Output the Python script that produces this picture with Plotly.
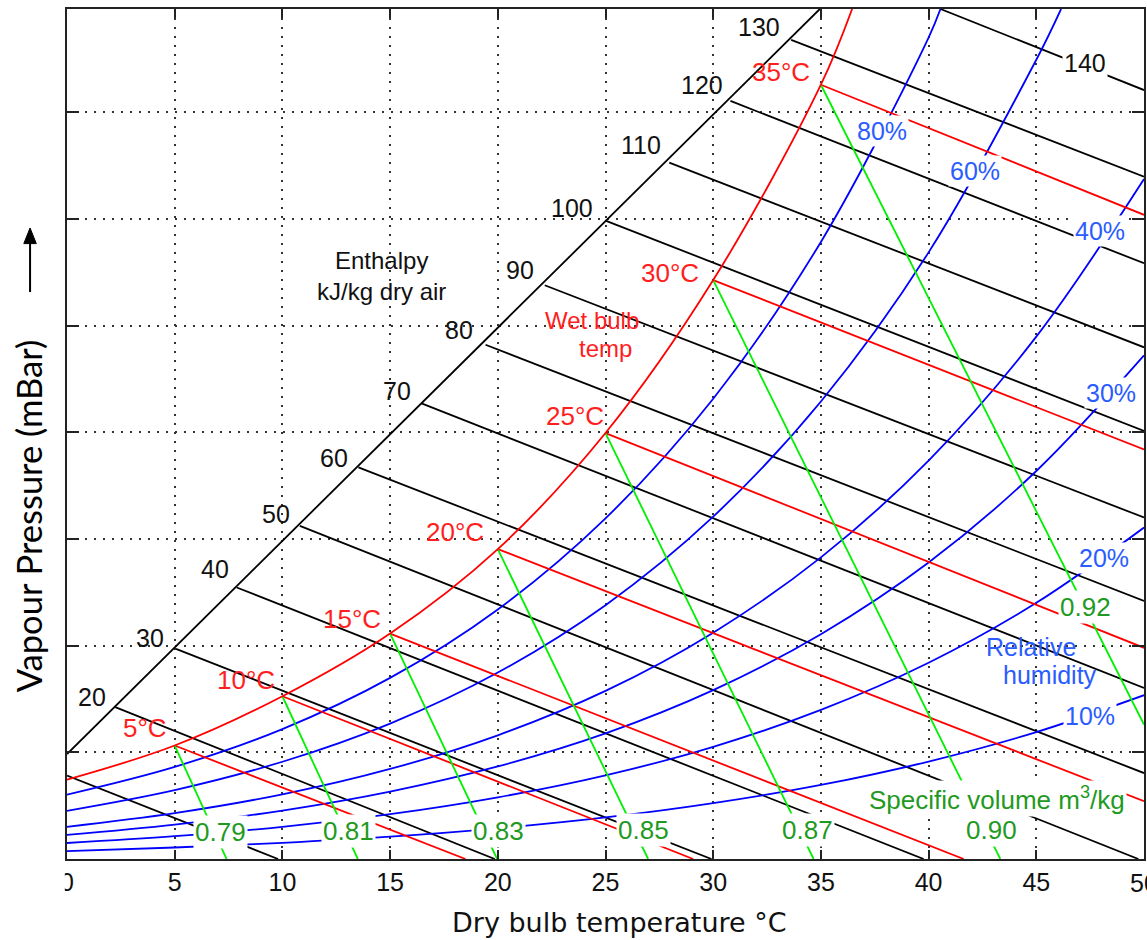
import plotly.graph_objects as go

# ---------------- values ----------------
x_ticks = [0, 5, 10, 15, 20, 25, 30, 35, 40, 45]
y_grid = [0, 5, 10, 15, 20, 25, 30, 35]
y_top = 39.85

# saturation curve (wet-bulb scale, red)
sat_T = [0, 5, 10, 15, 20, 25, 30, 35, 36.45]
sat_W = [3.72, 5.32, 7.63, 10.57, 14.53, 19.97, 27.14, 36.3, 39.85]

# relative humidity curves (blue)
rh_T = [0, 5, 10, 15, 20, 25, 30, 35, 40, 45, 50]
rh10_W = [0.37, 0.54, 0.76, 1.05, 1.44, 1.95, 2.62, 3.47, 4.57, 5.95, 7.68]
rh20_W = [0.75, 1.07, 1.51, 2.10, 2.89, 3.92, 5.26, 6.99, 9.20, 12.01, 15.54]
rh30_W = [1.13, 1.61, 2.27, 3.16, 4.34, 5.89, 7.92, 10.54, 13.90, 18.19, 23.61]
rh40_W = [1.51, 2.15, 3.03, 4.22, 5.80, 7.88, 10.61, 14.14, 18.68, 24.49, 31.88]
rh60_T = [0, 5, 10, 15, 20, 25, 30, 35, 40, 45, 46.15]
rh60_W = [2.26, 3.23, 4.56, 6.35, 8.74, 11.90, 16.05, 21.45, 28.44, 37.47, 39.85]
rh80_T = [0, 5, 10, 15, 20, 25, 30, 35, 40, 40.55]
rh80_W = [3.02, 4.32, 6.09, 8.49, 11.70, 15.97, 21.58, 28.93, 38.51, 39.85]

# wet-bulb lines (start on saturation curve at 5..35 °C)
wb_names = ["5°C", "10°C", "15°C", "20°C", "25°C", "30°C", "35°C"]
wb_end_T = [18.5, 29.07, 41.63, 50, 50, 50, 50]
wb_end_W = [0, 0, 0, 2.71, 9.9, 19.2, 30.2]

# specific volume lines (start on saturation curve at 5..35 °C)
sv_names = ["0.79", "0.81", "0.83", "0.85", "0.87", "0.90", "0.92"]
sv_end_T = [7.41, 13.5, 19.97, 26.98, 34.66, 43.33, 50]
sv_end_W = [0, 0, 0, 0, 0, 0, 6.3]

# enthalpy lines (kJ/kg dry air)
h_values = [10, 20, 30, 40, 50, 60, 70, 80, 90, 100, 110, 120, 130, 140]
h_start_T = [0, 2.24, 5.06, 7.88, 10.81, 13.53, 16.46, 19.43, 22.18, 25.0, 27.96, 30.8, 33.62, 40.55]
h_start_W = [3.91, 7.12, 9.85, 12.73, 15.62, 18.36, 21.36, 24.11, 26.9, 29.93, 32.65, 35.54, 38.4, 39.85]
h_end_T = [9.8, 19.86, 29.92, 39.77, 49.74, 50, 50, 50, 50, 50, 50, 50, 50, 50]
h_end_W = [0, 0, 0, 0, 0, 4.03, 8.02, 12.1, 16.01, 20.07, 23.99, 27.93, 31.99, 36.05]

# enthalpy scale baseline (diagonal)
diag_T = [0, 34.95]
diag_W = [4.92, 39.85]

# ---------------- label placement (chart coords) ----------------
h_lab_T = [None, 1.17, 3.86, 6.87, 9.70, 12.41, 15.31, 18.20, 21.05, 23.46, 26.64, 29.49, 32.13, 47.28]
h_lab_W = [None, 7.58, 10.38, 13.59, 16.17, 18.81, 21.94, 24.80, 27.61, 30.52, 33.48, 36.29, 39.01, 37.31]
wb_lab_T = [3.63, 8.3, 13.22, 17.99, 23.6, 28.0, 33.15]
wb_lab_W = [6.14, 8.41, 11.24, 15.31, 20.77, 27.46, 36.88]
sv_lab_T = [7.14, 13.08, 20.02, 26.75, 34.36, 42.94, 47.27]
sv_lab_W = [1.28, 1.30, 1.32, 1.35, 1.35, 1.35, 11.83]
rh_lab = {"10%": (47.5, 6.71), "20%": (48.15, 14.09), "30%": (48.48, 21.85),
          "40%": (47.94, 29.45), "60%": (42.17, 32.26), "80%": (37.83, 34.11)}

RED, BLUE, GREEN, BLACK = "#ff0000", "#0000ff", "#00f000", "#000000"
RED_T, BLUE_T, GREEN_T = "#ff1e1e", "#2a5cff", "#1f9a1f"
FONT = "Liberation Sans"
LW = 1.8

fig = go.Figure()

def line(xs, ys, color, shape="linear"):
    fig.add_trace(go.Scatter(x=xs, y=ys, mode="lines", hoverinfo="skip",
                             line=dict(color=color, width=LW, shape=shape),
                             showlegend=False))

# enthalpy lines + diagonal
line(diag_T, diag_W, BLACK)
for i in range(len(h_values)):
    line([h_start_T[i], h_end_T[i]], [h_start_W[i], h_end_W[i]], BLACK)

# relative humidity curves
for W in [rh10_W, rh20_W, rh30_W, rh40_W]:
    line(rh_T, W, BLUE, "spline")
line(rh60_T, rh60_W, BLUE, "spline")
line(rh80_T, rh80_W, BLUE, "spline")

# wet-bulb lines
for i in range(len(wb_names)):
    line([sat_T[i + 1], wb_end_T[i]], [sat_W[i + 1], wb_end_W[i]], RED)
# specific volume lines
for i in range(len(sv_names)):
    line([sat_T[i + 1], sv_end_T[i]], [sat_W[i + 1], sv_end_W[i]], GREEN)
# saturation curve
line(sat_T, sat_W, RED, "spline")

ann = []

def label(text, x, y, color, size=25, bg=None, xanchor="center"):
    d = dict(text=text, x=x, y=y, xref="x", yref="y", showarrow=False,
             font=dict(family=FONT, size=size, color=color),
             xanchor=xanchor, yanchor="middle", borderpad=1)
    if bg:
        d["bgcolor"] = bg
    ann.append(d)

for i, h in enumerate(h_values):
    if h_lab_T[i] is not None:
        label(str(h), h_lab_T[i], h_lab_W[i], "#111111", 25,
              bg="white" if h == 140 else None)
for i, n in enumerate(wb_names):
    label(n, wb_lab_T[i], wb_lab_W[i], RED_T, 26)
for i, n in enumerate(sv_names):
    label(n, sv_lab_T[i], sv_lab_W[i], GREEN_T, 26, bg="white")
for k, (tx, ty) in rh_lab.items():
    label(k, tx, ty, BLUE_T, 25, bg="white")

label("Enthalpy<br>kJ/kg dry air", 14.61, 27.32, "#111111", 24)
label("Wet bulb", 24.39, 25.26, RED_T, 24)
label("temp", 24.99, 23.95, RED_T, 24)
label("Relative", 44.76, 9.95, BLUE_T, 25)
label("humidity", 45.64, 8.61, BLUE_T, 25)
label("Specific volume m<sup>3</sup>/kg", 43.19, 2.85, GREEN_T, 26, bg="white")

# last x tick label (cut by the right edge, as in the chart)
ann.append(dict(text="50", xref="x", yref="paper", x=50, y=-0.0286,
                xanchor="center", yanchor="middle", showarrow=False,
                font=dict(family=FONT, size=25, color="#111")))

# axis titles
ann.append(dict(text="Dry bulb temperature °C", xref="paper", yref="paper",
                x=0.5126, y=-0.0745, xanchor="center", yanchor="middle",
                showarrow=False, font=dict(family="DejaVu Sans", size=27, color="#111111")))
ann.append(dict(text="Vapour Pressure (mBar)", xref="paper", yref="paper",
                x=-0.0355, y=0.403, xanchor="center", yanchor="middle", textangle=-90,
                showarrow=False, font=dict(family="Lato", size=34.5, color="#000000")))

# arrow next to the y title, and white mask that clips the "0" tick label
ax_x = -0.0343
shapes = [
    dict(type="line", xref="paper", yref="paper", x0=ax_x, x1=ax_x,
         y0=0.667, y1=0.728, line=dict(color="black", width=2)),
    dict(type="path", xref="paper", yref="paper",
         path=f"M {ax_x - 0.0058} 0.724 L {ax_x + 0.0058} 0.724 L {ax_x} 0.7424 Z",
         fillcolor="black", line=dict(color="black", width=1)),
    dict(type="rect", xref="paper", yref="paper", layer="above",
         x0=-0.07, x1=-0.002, y0=-0.06, y1=-0.012,
         fillcolor="white", line=dict(width=0)),
]

fig.update_layout(
    width=1147, height=940,
    margin=dict(l=67, r=1, t=9, b=81),
    paper_bgcolor="white", plot_bgcolor="white",
    annotations=ann,
    shapes=shapes,
    xaxis=dict(range=[0, 50], tickvals=x_ticks,
               ticks="inside", ticklen=9,
               tickwidth=1.5, tickcolor="#222", showline=True, linecolor="#222",
               linewidth=2, mirror="ticks", showgrid=True, gridcolor="#333",
               gridwidth=1.5, griddash="2px,7px", zeroline=False,
               tickfont=dict(family=FONT, size=25, color="#111")),
    yaxis=dict(range=[0, y_top], tickvals=y_grid, ticks="inside", ticklen=12,
               tickwidth=1.5, tickcolor="#222", showline=True, linecolor="#222",
               linewidth=2, mirror="ticks", showgrid=True, gridcolor="#333",
               gridwidth=1.5, griddash="2px,7px", zeroline=False,
               showticklabels=False),
)

fig.write_html("out.html")
